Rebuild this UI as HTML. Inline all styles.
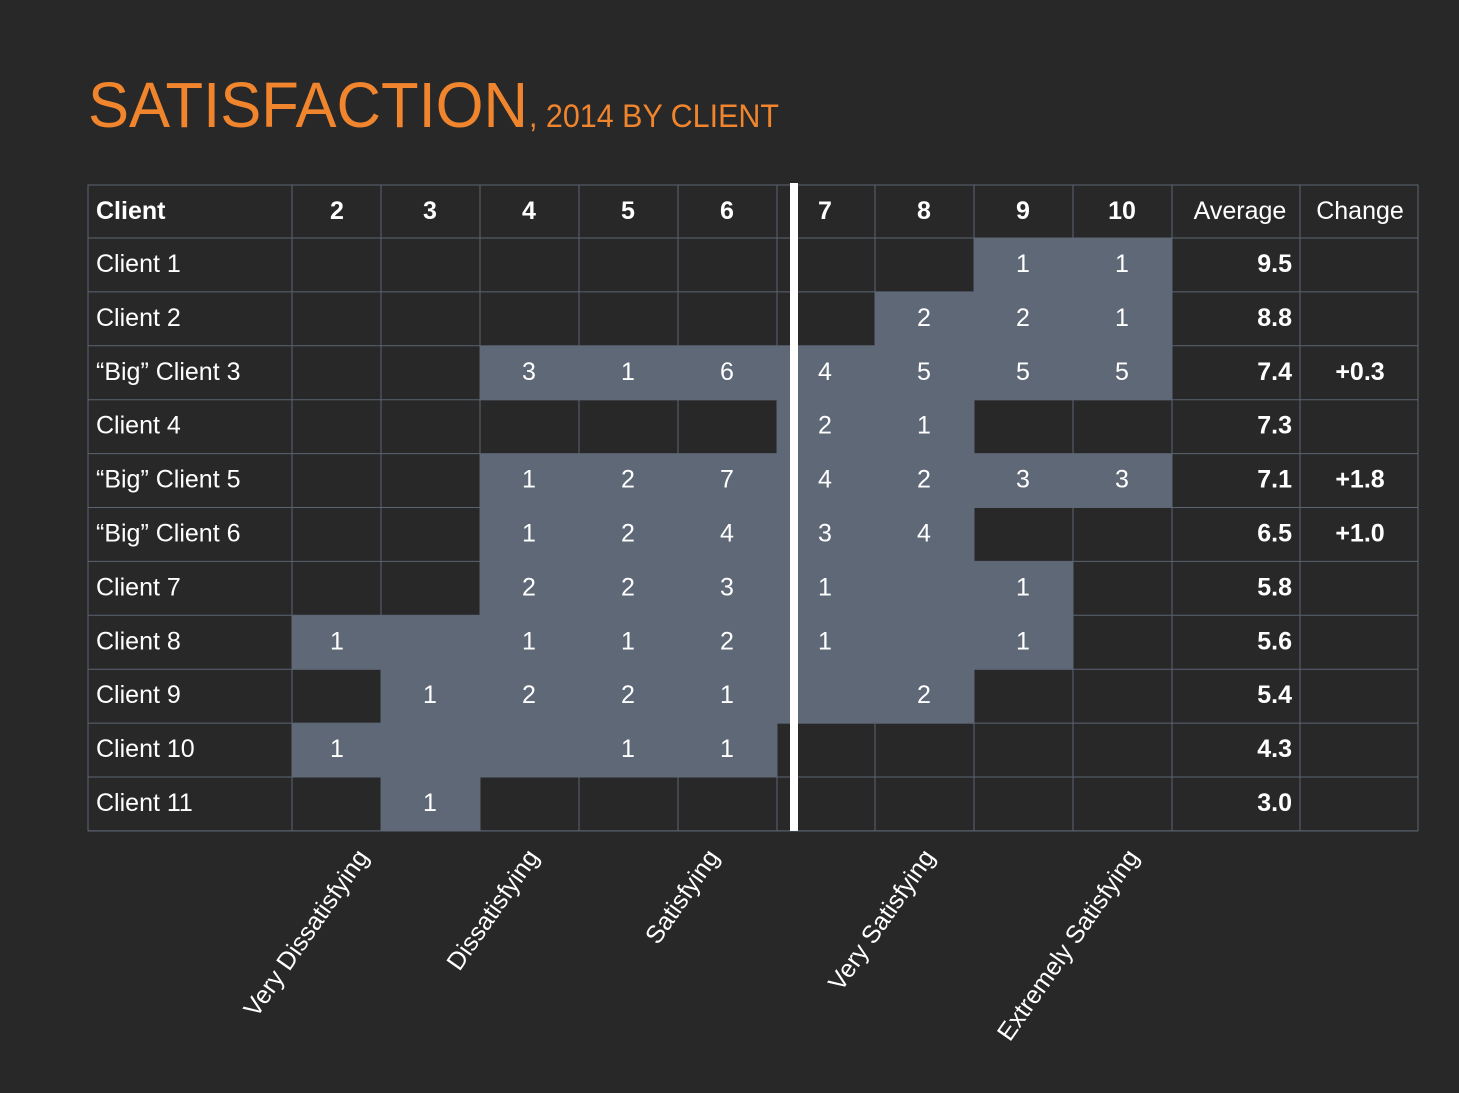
<!DOCTYPE html>
<html><head><meta charset="utf-8"><style>
html,body{margin:0;padding:0;background:#282828;}
svg{display:block;font-family:"Liberation Sans",sans-serif;}
</style></head><body>
<svg id="c" width="1459" height="1093">
<rect width="1459" height="1093" fill="#282828"/>
<text x="88" y="127" font-size="64" fill="#f0852d" textLength="440" lengthAdjust="spacingAndGlyphs" font-weight="300">SATISFACTION</text>
<text x="529" y="127" font-size="32" fill="#f0852d" textLength="250" lengthAdjust="spacingAndGlyphs">, 2014 BY CLIENT</text>
<g id="g"></g>
</svg>
<script>
const clients=["Client 1","Client 2","“Big” Client 3","Client 4","“Big” Client 5","“Big” Client 6","Client 7","Client 8","Client 9","Client 10","Client 11"];
const scores=["2","3","4","5","6","7","8","9","10"];
const counts=[
[0,0,0,0,0,0,0,1,1],
[0,0,0,0,0,0,2,2,1],
[0,0,3,1,6,4,5,5,5],
[0,0,0,0,0,2,1,0,0],
[0,0,1,2,7,4,2,3,3],
[0,0,1,2,4,3,4,0,0],
[0,0,2,2,3,1,0,1,0],
[1,0,1,1,2,1,0,1,0],
[0,1,2,2,1,0,2,0,0],
[1,0,0,1,1,0,0,0,0],
[0,1,0,0,0,0,0,0,0]];
const averages=["9.5","8.8","7.4","7.3","7.1","6.5","5.8","5.6","5.4","4.3","3.0"];
const changes=["","","+0.3","","+1.8","+1.0","","","","",""];
const categoryLabels=["Very Dissatisfying","Dissatisfying","Satisfying","Very Satisfying","Extremely Satisfying"];
const categoryScore=[2.41,4.13,5.95,8.13,10.19];

const NS="http://www.w3.org/2000/svg";
const g=document.getElementById('g');
function el(t,a){const e=document.createElementNS(NS,t);for(const k in a)e.setAttribute(k,a[k]);g.appendChild(e);return e;}
const colL=[292,381,480,579,678,777,875,974,1073];
const colR=[381,480,579,678,777,875,974,1073,1172];
const colText=[337,430,529,628,727,825,924,1023,1122];
function scoreX(s){return 529+(s-4)*99;}
const top0=185,headH=53,rowH=53.9;
function rowY(i){return top0+headH+i*rowH;}
const grid="#5b6372",shade="#5f6877";
el('rect',{x:88,y:top0,width:1330,height:headH+rowH*clients.length,fill:"none",stroke:grid,"stroke-width":1});
const vlines=[292,381,480,579,678,777,875,974,1073,1172,1300];
vlines.forEach(x=>{const l=el('line',{x1:x,y1:top0,x2:x,y2:rowY(clients.length),stroke:grid});
});
for(let i=0;i<=clients.length;i++){const l=el('line',{x1:88,y1:rowY(i),x2:1418,y2:rowY(i),stroke:grid});
}
counts.forEach((r,i)=>{
  let f=r.findIndex(v=>v>0),l=r.length-1-[...r].reverse().findIndex(v=>v>0);
  if(f<0)return;
  const c=el('rect',{x:colL[f],y:rowY(i),width:colR[l]-colL[f],height:rowH+0.5,fill:shade});
  
  
});
function txt(x,y,s,o){const t=el('text',Object.assign({x:x,y:y,fill:"#fff","font-size":25},o||{}));t.textContent=s;return t;}
let h=txt(96,top0+34,"Client",{"font-weight":"bold"});

scores.forEach((s,j)=>{const t=txt(colText[j],top0+34,s,{"font-weight":"bold","text-anchor":"middle"});
});
h=txt(1240,top0+34,"Average",{"text-anchor":"middle"});

h=txt(1360,top0+34,"Change",{"text-anchor":"middle"});

clients.forEach((c,i)=>{
  const y=rowY(i)+34;
  let t=txt(96,y,c);
  
  counts[i].forEach((v,j)=>{if(v>0){const n=txt(colText[j],y,String(v),{"text-anchor":"middle"});
    }});
  t=txt(1292,y,averages[i],{"text-anchor":"end","font-weight":"bold"});
  
  if(changes[i]){t=txt(1360,y,changes[i],{"text-anchor":"middle","font-weight":"bold"});
    }
});
const d=el('rect',{x:790,y:top0-2,width:8,height:rowY(clients.length)-top0+2,fill:"#fff"});

categoryLabels.forEach((s,k)=>{
  const x=scoreX(categoryScore[k])-2;const y=857;
  const t=txt(x,y,s,{"text-anchor":"end","font-size":25,transform:`rotate(-55 ${x} ${y})`});
  
});
</script>
</body></html>
